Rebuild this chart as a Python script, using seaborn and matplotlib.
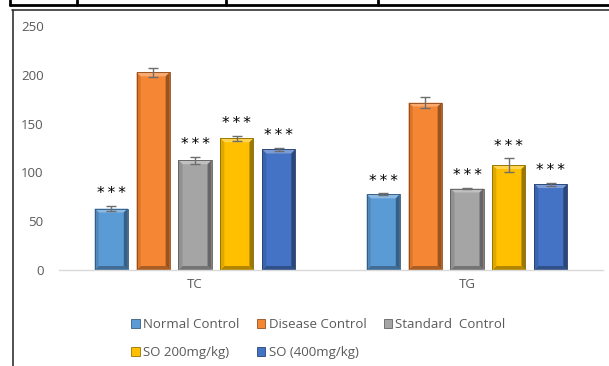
import numpy as np
import pandas as pd
import seaborn as sns
import matplotlib
matplotlib.use("Agg")
import matplotlib.pyplot as plt
from matplotlib.patches import Patch, Polygon
from matplotlib.lines import Line2D
from matplotlib.colors import to_rgb

# ---- data ----
categories = ["TC", "TG"]
groups = ["Normal Control", "Disease Control", "Standard  Control", "SO 200mg/kg)", "SO (400mg/kg)"]
tc_means = [63, 202.5, 112.5, 135, 123.5]
tg_means = [77.5, 171.5, 83.5, 107.5, 88]
tc_err = [2.5, 4.5, 3.5, 2.5, 2.0]
tg_err = [1.0, 6.0, 1.0, 7.0, 1.5]
tc_sig = ["***", "", "***", "***", "***"]
tg_sig = ["***", "", "***", "***", "***"]
colors = ["#5B9BD5", "#F58634", "#A5A5A5", "#FFC000", "#4472C4"]

rows = []
for g, m1, m2, e1, e2, s1, s2 in zip(groups, tc_means, tg_means, tc_err, tg_err, tc_sig, tg_sig):
    rows.append(dict(param="TC", group=g, value=m1, err=e1, sig=s1))
    rows.append(dict(param="TG", group=g, value=m2, err=e2, sig=s2))
df = pd.DataFrame(rows)

sns.set_style("white")
plt.rcParams["font.family"] = ["Open Sans", "DejaVu Sans"]

W, H = 609, 366
fig = plt.figure(figsize=(W / 100, H / 100), dpi=100)
ax_l, ax_r, ax_b, ax_t = 59 / W, 603 / W, 1 - 270 / H, 1 - 26 / H
ax = fig.add_axes([ax_l, ax_b, ax_r - ax_l, ax_t - ax_b])

sns.barplot(data=df, x="param", y="value", hue="group", order=categories,
            hue_order=groups, palette=colors, width=0.77, gap=0.21,
            errorbar=None, legend=False, ax=ax, saturation=1,
            edgecolor="none", linewidth=0)

ax.set_ylim(0, 250)
ax.set_xlim(-0.5, 1.5)
ax.set_yticks([0, 50, 100, 150, 200, 250])
ax.set_xlabel("")
ax.set_ylabel("")
for s in ["left", "right", "top"]:
    ax.spines[s].set_visible(False)
ax.spines["bottom"].set_color("#D9D9D9")
ax.spines["bottom"].set_linewidth(1)
ax.tick_params(axis="both", length=0, colors="#595959", labelsize=9.5)
ax.tick_params(axis="y", pad=11)
ax.tick_params(axis="x", pad=6)

# px per data unit
ax_wpx = (ax_r - ax_l) * W
ax_hpx = (ax_t - ax_b) * H
xu = 2.0 / ax_wpx   # data units per px in x
yu = 250.0 / ax_hpx  # data units per px in y

def mix(c, t, f):
    c = np.array(to_rgb(c)); t = np.array(to_rgb(t))
    return tuple(c * (1 - f) + t * f)

bar_containers = list(ax.containers)
for gi, cont in enumerate(bar_containers):
    g = groups[gi]
    col = colors[gi]
    for bar in cont:
        x0 = bar.get_x(); w = bar.get_width(); h = bar.get_height()
        xc = x0 + w / 2
        cat = categories[int(round(xc))]
        rec = df[(df.group == g) & (df.param == cat)].iloc[0]
        bx, by = 4 * xu, 4 * yu
        x1 = x0 + w
        # bevels
        ax.add_patch(Polygon([(x0, h), (x1, h), (x1 - bx, h - by), (x0 + bx, h - by)],
                             closed=True, facecolor=mix(col, "white", 0.3), edgecolor="none", zorder=2.1))
        ax.add_patch(Polygon([(x1, h), (x1, 0), (x1 - bx, by), (x1 - bx, h - by)],
                             closed=True, facecolor=mix(col, "black", 0.38), edgecolor="none", zorder=2.1))
        ax.add_patch(Polygon([(x0, 0), (x1, 0), (x1 - bx, by), (x0 + bx, by)],
                             closed=True, facecolor=mix(col, "black", 0.3), edgecolor="none", zorder=2.1))
        ax.add_patch(Polygon([(x0, h), (x0, 0), (x0 + bx, by), (x0 + bx, h - by)],
                             closed=True, facecolor=mix(col, "black", 0.12), edgecolor="none", zorder=2.1))
        ax.add_patch(Polygon([(x0, 0), (x0, h), (x1, h), (x1, 0)], closed=True,
                             facecolor="none", edgecolor=mix(col, "black", 0.45), linewidth=0.6, zorder=2.2))
        ax.errorbar(xc, h, yerr=rec.err, color="#6E6E6E", capsize=3.5, elinewidth=1,
                    capthick=1, fmt="none", zorder=3)
        if rec.sig:
            ax.annotate("\u2009".join(rec.sig), (xc, h + rec.err), xytext=(0, 5.5),
                        textcoords="offset points", ha="center", va="baseline",
                        fontsize=11, color="black", family="DejaVu Sans")

# legend (row-major order for ncol=3)
order = [0, 3, 1, 4, 2]
handles = [Patch(facecolor=colors[i], edgecolor=mix(colors[i], "black", 0.4), linewidth=0.6) for i in order]
labels = [groups[i] for i in order]
leg = fig.legend(handles, labels, ncol=3, loc="center", bbox_to_anchor=(318.5 / W, 1 - 338.5 / H),
                 frameon=False, fontsize=9.5, handlelength=0.65, handleheight=0.65,
                 handletextpad=0.25, columnspacing=1.3, labelspacing=1.15, labelcolor="#595959")

# chart frame and table border
fig.add_artist(Line2D([12 / W, 1], [1 - 10 / H, 1 - 10 / H], color="#333333", lw=1.2))
fig.add_artist(Line2D([13 / W, 13 / W], [0, 1 - 10 / H], color="#333333", lw=1.2))
fig.add_artist(Line2D([10 / W, 1], [1 - 5 / H, 1 - 5 / H], color="black", lw=2))
for xp in [10, 77, 226, 378]:
    fig.add_artist(Line2D([xp / W, xp / W], [1 - 5 / H, 1], color="black", lw=2))

fig.savefig("out.png", dpi=100)
